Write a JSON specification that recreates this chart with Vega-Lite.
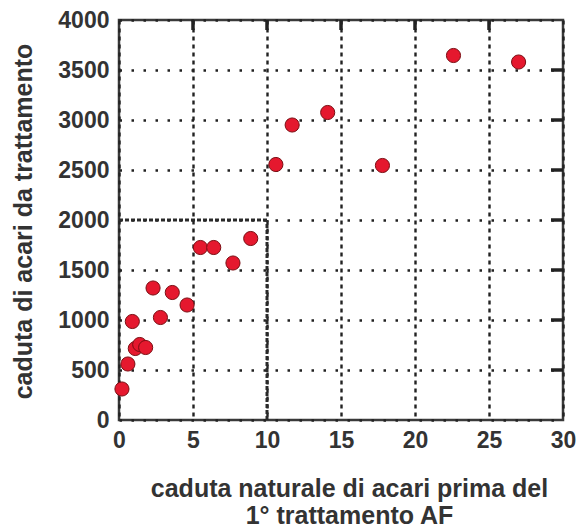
{
  "$schema": "https://vega.github.io/schema/vega-lite/v6.json",
  "width": 444,
  "height": 400,
  "autosize": "none",
  "padding": {"left": 119, "top": 20, "right": 14, "bottom": 108},
  "background": "white",
  "config": {
    "view": {"stroke": "#3a3a3a", "strokeWidth": 2.5},
    "font": "Liberation Sans",
    "axis": {
      "labelFont": "Liberation Sans",
      "labelFontWeight": "bold",
      "labelColor": "#333",
      "titleFont": "Liberation Sans",
      "titleFontWeight": "bold",
      "titleColor": "#333",
      "domain": false,
      "labelFlush": false,
      "labelOverlap": false
    }
  },
  "datasets": {
    "pts": [
      {"x": 0.2, "y": 310},
      {"x": 0.6, "y": 560},
      {"x": 0.9, "y": 985},
      {"x": 1.1, "y": 715},
      {"x": 1.4, "y": 755},
      {"x": 1.8, "y": 725},
      {"x": 2.3, "y": 1320},
      {"x": 2.8, "y": 1025},
      {"x": 3.6, "y": 1275},
      {"x": 4.6, "y": 1150},
      {"x": 5.5, "y": 1725},
      {"x": 6.4, "y": 1725},
      {"x": 7.7, "y": 1570},
      {"x": 8.9, "y": 1815},
      {"x": 10.6, "y": 2555},
      {"x": 11.7, "y": 2950},
      {"x": 14.1, "y": 3075},
      {"x": 17.8, "y": 2545},
      {"x": 22.6, "y": 3645},
      {"x": 27.0, "y": 3580}
    ],
    "seg": [
      {"x": 0, "y": 2000, "x2": 10, "y2": 2000},
      {"x": 10, "y": 0, "x2": 10, "y2": 2000}
    ],
    "rticks": [
      {"y": 500}, {"y": 1000}, {"y": 1500}, {"y": 2000}, {"y": 2500}, {"y": 3000}, {"y": 3500}
    ],
    "tticks": [
      {"x": 5}, {"x": 10}, {"x": 15}, {"x": 20}, {"x": 25}
    ]
  },
  "layer": [
    {
      "data": {"name": "seg"},
      "mark": {"type": "rule", "color": "#2a2a2a", "strokeWidth": 3, "strokeDash": [4, 2]},
      "encoding": {
        "x": {
          "field": "x", "type": "quantitative",
          "scale": {"domain": [0, 30], "nice": false, "zero": false},
          "axis": {
            "orient": "bottom", "values": [0, 5, 10, 15, 20, 25, 30], "format": "d",
            "labelFontSize": 23, "labelPadding": 9, "ticks": false,
            "grid": true, "gridColor": "#222", "gridWidth": 2.4, "gridDash": [4, 4],
            "title": ["caduta naturale di acari prima del", "1° trattamento AF"],
            "titleFontSize": 25, "titleLineHeight": 27,
            "titleX": 230, "titleY": 56, "titleAnchor": "middle", "titleAlign": "center", "titleBaseline": "top"
          }
        },
        "x2": {"field": "x2"},
        "y": {
          "field": "y", "type": "quantitative",
          "scale": {"domain": [0, 4000], "nice": false, "zero": false},
          "axis": {
            "orient": "left", "values": [0, 500, 1000, 1500, 2000, 2500, 3000, 3500, 4000], "format": "d",
            "labelFontSize": 23, "labelPadding": 10, "ticks": false,
            "grid": true, "gridColor": "#222", "gridWidth": 2.5, "gridDash": [2.5, 9.5],
            "title": "caduta di acari da trattamento",
            "titleFontSize": 25,
            "titleX": -96, "titleY": 201, "titleAngle": -90, "titleAlign": "center", "titleBaseline": "middle"
          }
        },
        "y2": {"field": "y2"}
      }
    },
    {
      "data": {"name": "rticks"},
      "mark": {"type": "tick", "orient": "horizontal", "size": 12, "thickness": 3.5, "color": "#222", "opacity": 1, "xOffset": -6},
      "encoding": {
        "x": {"datum": 30, "type": "quantitative"},
        "y": {"field": "y", "type": "quantitative"}
      }
    },
    {
      "data": {"name": "tticks"},
      "mark": {"type": "tick", "orient": "vertical", "size": 10, "thickness": 3.5, "color": "#222", "opacity": 1, "yOffset": 5},
      "encoding": {
        "x": {"field": "x", "type": "quantitative"},
        "y": {"datum": 4000, "type": "quantitative"}
      }
    },
    {
      "data": {"name": "pts"},
      "mark": {"type": "circle", "size": 200, "opacity": 1, "fill": "#e5182e", "stroke": "#7a0d12", "strokeWidth": 1},
      "encoding": {
        "x": {"field": "x", "type": "quantitative"},
        "y": {"field": "y", "type": "quantitative"}
      }
    }
  ]
}
